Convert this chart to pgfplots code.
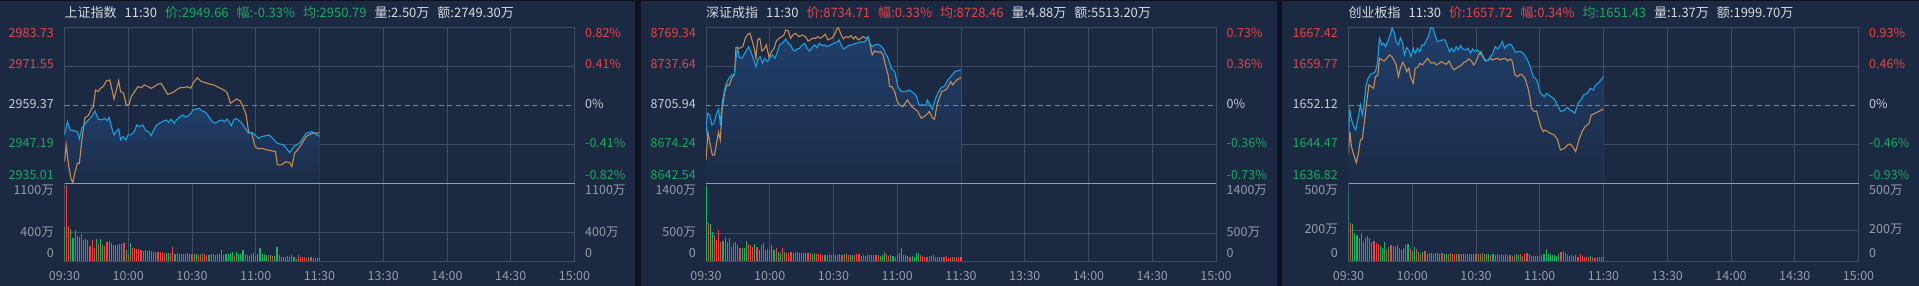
\documentclass[border=0pt]{standalone}
\usepackage{fontspec}
\setmainfont{Noto Sans CJK SC}
\usepackage{pgfplots}
\usepackage{pgfplotstable}
\pgfplotsset{compat=1.18}

\definecolor{outerbg}{RGB}{13,18,30}
\definecolor{panelbg}{RGB}{28,41,66}
\definecolor{gridc}{RGB}{64,77,103}
\definecolor{sepc}{RGB}{150,156,170}
\definecolor{zeroc}{RGB}{125,132,145}
\definecolor{priceblue}{RGB}{28,160,222}
\definecolor{avgorange}{RGB}{196,142,80}
\definecolor{upred}{RGB}{232,68,68}
\definecolor{dngreen}{RGB}{30,168,98}
\definecolor{barred}{RGB}{240,66,66}
\definecolor{bargreen}{RGB}{28,178,100}
\definecolor{lblgray}{RGB}{150,156,168}
\definecolor{lblwhite}{RGB}{200,204,212}
\definecolor{hdrwhite}{RGB}{214,218,226}
\definecolor{filltop}{RGB}{32,62,106}
\definecolor{fillbot}{RGB}{28,43,70}

% ---------- Panel 1: 上证指数 ----------
\pgfplotstableread[row sep=\\]{m p\\
0 2950.11\\ 1.4 2954.27\\ 2.6 2951.67\\ 5.0 2951.35\\ 6.1 2951.15\\ 7.0 2948.86\\ 8.1 2952.19\\ 9.6 2953.44\\ 11.2 2954.79\\ 12.8 2955.83\\
14.3 2957.60\\ 15.9 2955.00\\ 17.4 2954.79\\ 19.0 2955.31\\ 20.1 2954.58\\ 21.0 2955.62\\ 22.1 2952.71\\ 23.3 2950.11\\ 24.4 2951.15\\ 25.5 2951.98\\
26.4 2948.54\\ 27.5 2949.59\\ 28.8 2948.54\\ 29.9 2950.11\\ 31.4 2950.11\\ 33.0 2951.35\\ 34.0 2953.23\\ 35.3 2952.71\\ 36.8 2953.23\\ 38.4 2951.35\\
39.6 2951.15\\ 40.7 2949.90\\ 41.8 2951.35\\ 43.1 2953.02\\ 44.6 2953.75\\ 46.2 2954.27\\ 47.7 2954.79\\ 49.0 2954.06\\ 50.1 2955.00\\ 51.6 2953.75\\
52.7 2954.79\\ 53.9 2955.52\\ 55.5 2956.35\\ 57.1 2955.73\\ 58.3 2956.14\\ 59.5 2956.87\\ 60.5 2957.91\\ 61.7 2958.12\\ 63.3 2958.43\\ 64.8 2957.60\\
66.4 2957.18\\ 67.9 2955.83\\ 69.5 2954.27\\ 71.0 2953.75\\ 72.6 2954.48\\ 74.1 2954.79\\ 75.4 2954.27\\ 76.5 2955.10\\ 77.6 2954.06\\ 78.5 2953.02\\
79.6 2954.79\\ 80.7 2955.31\\ 82.2 2954.58\\ 83.5 2953.75\\ 85.0 2952.19\\ 86.6 2950.63\\ 88.1 2950.94\\ 89.7 2950.11\\ 91.3 2949.06\\ 92.8 2949.59\\
96.4 2950.11\\ 100.2 2947.50\\ 103.1 2946.98\\ 106.0 2944.59\\ 107.9 2946.46\\ 110.8 2947.71\\ 113.7 2950.63\\ 116.5 2951.15\\ 120 2949.66\\
}\bA
\pgfplotstableread[row sep=\\]{m p\\
0 2941.78\\ 0.8 2946.98\\ 1.9 2940.74\\ 3.0 2936.57\\ 3.9 2935.22\\ 5.0 2938.65\\ 6.1 2941.26\\ 7.0 2941.26\\ 8.1 2948.02\\ 9.6 2955.52\\
11.2 2956.14\\ 12.8 2958.43\\ 13.5 2958.64\\ 14.6 2964.16\\ 15.9 2963.64\\ 16.9 2964.68\\ 18.2 2965.20\\ 19.7 2966.97\\ 21.3 2967.28\\ 22.2 2964.68\\
23.3 2961.35\\ 24.4 2964.16\\ 25.5 2967.07\\ 26.4 2963.64\\ 27.8 2963.12\\ 29.1 2959.47\\ 30.3 2959.47\\ 31.4 2962.08\\ 33.0 2963.64\\ 34.5 2965.20\\
36.1 2964.89\\ 37.6 2965.72\\ 39.2 2965.20\\ 40.7 2964.68\\ 42.3 2965.20\\ 43.8 2965.93\\ 45.4 2966.24\\ 46.9 2964.68\\ 48.5 2962.81\\ 50.1 2963.12\\
51.6 2963.64\\ 53.2 2964.47\\ 54.7 2964.89\\ 56.3 2964.89\\ 57.9 2965.20\\ 59.4 2964.68\\ 60.5 2966.24\\ 61.7 2967.28\\ 62.5 2968.01\\ 64.0 2966.97\\
65.6 2966.55\\ 67.2 2966.24\\ 68.7 2965.93\\ 70.3 2965.72\\ 71.8 2965.20\\ 73.4 2964.68\\ 75.0 2964.16\\ 76.5 2963.33\\ 78.1 2960.00\\ 79.6 2960.72\\
81.2 2961.35\\ 82.7 2960.72\\ 84.3 2958.43\\ 85.5 2956.35\\ 86.6 2951.15\\ 88.1 2950.63\\ 89.7 2946.46\\ 91.3 2945.73\\ 92.8 2945.94\\ 95.4 2945.42\\
99.3 2944.90\\ 100.2 2940.74\\ 102.1 2940.74\\ 104.1 2941.78\\ 106.0 2941.46\\ 107.0 2940.22\\ 108.3 2944.38\\ 110.8 2946.46\\ 113.7 2949.59\\ 116.5 2950.63\\ 120 2950.79\\
}\oA
\pgfplotstableread[row sep=\\]{m v c\\
0 480 0\\ 1 1070 1\\ 2 500 1\\ 3 456 0\\ 4 325 0\\ 5 437 1\\ 6 349 0\\ 7 340 0\\ 8 377 1\\ 9 293 1\\
10 316 0\\ 11 293 1\\ 12 214 1\\ 13 293 1\\ 14 190 1\\ 15 307 0\\ 16 246 1\\ 17 307 0\\ 18 232 0\\ 19 214 1\\
20 270 1\\ 21 279 0\\ 22 260 0\\ 23 223 1\\ 24 223 0\\ 25 232 1\\ 26 246 1\\ 27 246 1\\ 28 260 1\\ 29 153 0\\
30 84 1\\ 31 260 0\\ 32 186 1\\ 33 177 1\\ 34 167 1\\ 35 167 1\\ 36 153 1\\ 37 140 1\\ 38 149 0\\ 39 144 1\\
40 149 0\\ 41 140 1\\ 42 130 1\\ 43 130 1\\ 44 121 1\\ 45 130 1\\ 46 121 1\\ 47 112 1\\ 48 112 0\\ 49 116 0\\
50 112 1\\ 51 200 1\\ 52 98 0\\ 53 112 1\\ 54 102 0\\ 55 93 1\\ 56 93 1\\ 57 93 0\\ 58 112 1\\ 59 102 0\\
60 102 1\\ 61 98 0\\ 62 93 0\\ 63 84 1\\ 64 102 1\\ 65 93 0\\ 66 102 1\\ 67 84 1\\ 68 84 0\\ 69 93 0\\
70 98 1\\ 71 88 0\\ 72 93 0\\ 73 102 0\\ 74 149 0\\ 75 84 1\\ 76 102 0\\ 77 93 0\\ 78 107 0\\ 79 121 0\\
80 74 1\\ 81 130 0\\ 82 102 0\\ 83 93 0\\ 84 149 0\\ 85 102 1\\ 86 84 1\\ 87 74 0\\ 88 102 0\\ 89 112 0\\
90 74 1\\ 91 102 0\\ 92 186 0\\ 93 93 0\\ 94 93 0\\ 95 79 0\\ 96 84 1\\ 97 84 0\\ 98 70 1\\ 99 70 0\\
100 205 0\\ 101 79 1\\ 102 60 0\\ 103 51 0\\ 104 60 0\\ 105 70 1\\ 106 51 0\\ 107 84 1\\ 108 51 0\\ 109 33 0\\
110 79 1\\ 111 51 1\\ 112 51 1\\ 113 60 1\\ 114 46 1\\ 115 51 0\\ 116 51 1\\ 117 42 1\\ 118 47 1\\ 119 40 1\\ 120 45 1\\
}\vA

% ---------- Panel 2: 深证成指 ----------
\pgfplotstableread[row sep=\\]{m p\\
0 8681.83\\ 0.6 8699.44\\ 1.7 8698.08\\ 2.8 8689.95\\ 3.7 8691.31\\ 4.8 8698.08\\ 5.9 8702.69\\ 6.7 8691.31\\ 7.6 8707.57\\ 8.7 8718.40\\
9.8 8724.63\\ 11.0 8728.43\\ 12.1 8730.60\\ 13.4 8731.14\\ 14.1 8744.14\\ 14.9 8752.27\\ 15.7 8744.68\\ 16.9 8744.14\\ 18.0 8747.39\\ 19.1 8750.92\\
20.1 8753.63\\ 21.1 8749.56\\ 22.2 8744.14\\ 23.5 8737.37\\ 24.6 8744.14\\ 25.5 8745.50\\ 26.6 8740.08\\ 27.7 8744.14\\ 28.9 8741.43\\ 30.0 8744.14\\
31.2 8746.85\\ 32.5 8744.14\\ 33.6 8749.56\\ 34.7 8754.98\\ 35.9 8756.33\\ 37.5 8759.86\\ 38.7 8756.33\\ 39.8 8754.98\\ 40.9 8750.92\\ 41.8 8750.10\\
42.9 8751.73\\ 44.0 8752.27\\ 45.2 8754.98\\ 46.5 8756.33\\ 47.6 8752.27\\ 48.7 8750.10\\ 49.9 8752.81\\ 51.1 8754.98\\ 52.2 8752.81\\ 53.3 8756.33\\
54.6 8754.44\\ 55.8 8754.98\\ 56.9 8753.63\\ 58.0 8754.44\\ 59.2 8755.52\\ 60.5 8756.33\\ 61.6 8757.15\\ 62.6 8759.04\\ 63.6 8754.98\\ 64.7 8751.73\\
65.8 8752.81\\ 67.0 8754.44\\ 68.1 8754.98\\ 69.3 8755.52\\ 70.6 8756.33\\ 72.0 8756.88\\ 73.2 8757.69\\ 74.3 8757.15\\ 75.5 8759.04\\ 76.3 8761.75\\
77.1 8756.33\\ 78.2 8753.63\\ 79.4 8754.98\\ 81.0 8755.52\\ 82.2 8754.44\\ 83.3 8752.27\\ 84.4 8748.21\\ 85.7 8744.14\\ 87.2 8736.01\\ 88.8 8733.30\\
90.3 8721.11\\ 91.9 8717.05\\ 93.5 8717.05\\ 95.8 8718.40\\ 98.7 8714.34\\ 100.3 8706.21\\ 103.6 8706.21\\ 104.1 8710.28\\ 105.5 8706.21\\ 106.5 8702.69\\
108.0 8711.63\\ 110.3 8719.76\\ 112.3 8721.65\\ 113.8 8726.53\\ 115.2 8729.24\\ 117.1 8733.30\\ 120 8734.71\\
}\bB
\pgfplotstableread[row sep=\\]{m p\\
0 8661.51\\ 0.9 8683.99\\ 2.0 8673.70\\ 3.0 8665.57\\ 4.0 8665.57\\ 5.1 8676.41\\ 5.9 8683.99\\ 6.7 8677.76\\ 7.6 8702.15\\ 8.7 8715.69\\
9.8 8722.47\\ 11.0 8722.47\\ 12.1 8727.89\\ 13.4 8731.14\\ 14.1 8752.81\\ 15.7 8752.27\\ 17.3 8753.63\\ 18.5 8760.40\\ 19.6 8763.65\\ 20.7 8764.46\\
21.6 8759.04\\ 22.7 8752.27\\ 23.5 8744.14\\ 24.3 8759.04\\ 25.3 8760.40\\ 26.3 8750.10\\ 27.4 8751.73\\ 28.4 8754.98\\ 29.7 8744.68\\ 30.9 8749.56\\
32.0 8752.27\\ 33.1 8758.23\\ 34.4 8760.40\\ 35.6 8761.75\\ 36.7 8763.11\\ 37.5 8767.17\\ 38.7 8766.36\\ 39.8 8760.40\\ 40.9 8763.11\\ 42.1 8764.46\\
43.7 8761.75\\ 45.2 8763.11\\ 46.8 8761.75\\ 48.0 8758.23\\ 49.1 8759.04\\ 50.2 8760.40\\ 51.5 8760.40\\ 52.7 8761.75\\ 53.8 8760.40\\ 54.9 8761.75\\
56.1 8763.65\\ 57.4 8759.04\\ 58.4 8759.86\\ 59.5 8760.94\\ 60.8 8764.46\\ 61.6 8767.99\\ 62.3 8769.07\\ 63.6 8763.11\\ 64.7 8759.86\\ 65.8 8761.75\\
67.0 8760.94\\ 68.2 8762.57\\ 69.3 8759.86\\ 70.4 8761.75\\ 71.7 8759.04\\ 72.9 8760.40\\ 74.0 8761.75\\ 75.1 8760.40\\ 76.3 8760.94\\ 77.1 8756.33\\
78.2 8746.85\\ 79.4 8750.10\\ 81.0 8749.02\\ 82.2 8749.56\\ 83.3 8746.85\\ 84.4 8738.72\\ 85.7 8730.60\\ 86.4 8721.11\\ 87.5 8721.11\\ 88.8 8717.05\\
90.0 8708.92\\ 91.1 8706.21\\ 92.6 8704.86\\ 94.8 8710.28\\ 96.8 8704.86\\ 99.7 8700.79\\ 101.3 8695.37\\ 103.6 8698.08\\ 105.1 8700.79\\ 106.7 8695.37\\
107.5 8694.56\\ 108.9 8707.57\\ 110.9 8717.05\\ 113.2 8718.95\\ 115.2 8725.18\\ 116.1 8722.47\\ 118.0 8726.53\\ 120 8728.46\\
}\oB
\pgfplotstableread[row sep=\\]{m v c\\
0 1343 0\\ 1 681 1\\ 2 669 0\\ 3 518 0\\ 4 470 1\\ 5 380 1\\ 6 560 1\\ 7 349 1\\ 8 361 0\\ 9 440 1\\
10 349 0\\ 11 410 1\\ 12 259 1\\ 13 319 1\\ 14 337 1\\ 15 289 1\\ 16 229 1\\ 17 241 0\\ 18 229 0\\ 19 367 0\\
20 307 1\\ 21 289 1\\ 22 259 1\\ 23 301 0\\ 24 259 1\\ 25 199 0\\ 26 289 1\\ 27 319 1\\ 28 199 0\\ 29 217 0\\
30 199 1\\ 31 289 0\\ 32 199 0\\ 33 241 1\\ 34 169 0\\ 35 139 0\\ 36 229 1\\ 37 157 0\\ 38 139 1\\ 39 151 1\\
40 157 1\\ 41 139 0\\ 42 157 1\\ 43 169 0\\ 44 145 0\\ 45 139 0\\ 46 139 0\\ 47 145 0\\ 48 139 1\\ 49 145 1\\
50 120 0\\ 51 139 0\\ 52 120 1\\ 53 120 1\\ 54 127 1\\ 55 108 1\\ 56 108 0\\ 57 108 1\\ 58 133 1\\ 59 108 1\\
60 127 1\\ 61 108 0\\ 62 108 1\\ 63 127 0\\ 64 108 1\\ 65 120 0\\ 66 133 1\\ 67 108 1\\ 68 108 0\\ 69 108 0\\
70 108 1\\ 71 120 1\\ 72 133 1\\ 73 96 1\\ 74 108 1\\ 75 96 0\\ 76 108 0\\ 77 108 1\\ 78 108 1\\ 79 108 0\\
80 102 1\\ 81 108 1\\ 82 96 0\\ 83 108 0\\ 84 169 0\\ 85 120 1\\ 86 96 1\\ 87 108 0\\ 88 96 0\\ 89 78 1\\
90 108 0\\ 91 139 0\\ 92 229 0\\ 93 108 1\\ 94 107 0\\ 95 89 0\\ 96 77 1\\ 97 89 0\\ 98 65 0\\ 99 149 0\\
100 137 0\\ 101 107 1\\ 102 89 1\\ 103 77 1\\ 104 65 1\\ 105 83 1\\ 106 89 1\\ 107 101 1\\ 108 65 1\\ 109 77 1\\
110 65 1\\ 111 77 0\\ 112 65 1\\ 113 89 1\\ 114 54 1\\ 115 77 1\\ 116 65 0\\ 117 65 1\\ 118 77 1\\ 119 70 1\\ 120 72 1\\
}\vB

% ---------- Panel 3: 创业板指 ----------
\pgfplotstableread[row sep=\\]{m p\\
0 1646.30\\ 0.6 1651.20\\ 1.4 1649.24\\ 2.5 1647.94\\ 3.4 1647.28\\ 4.5 1649.57\\ 5.6 1652.19\\ 6.5 1650.22\\ 7.2 1651.86\\ 8.1 1655.78\\
9.2 1657.42\\ 10.3 1658.20\\ 11.5 1658.40\\ 12.6 1658.72\\ 13.5 1660.03\\ 14.6 1665.26\\ 15.7 1663.95\\ 16.5 1664.28\\ 17.4 1663.63\\ 18.5 1664.61\\
19.6 1665.92\\ 20.5 1667.35\\ 21.6 1666.24\\ 22.4 1664.61\\ 23.5 1663.95\\ 24.4 1665.39\\ 25.5 1664.28\\ 26.3 1661.99\\ 27.4 1663.43\\ 28.3 1662.97\\
29.4 1661.67\\ 30.5 1663.30\\ 31.4 1662.32\\ 32.5 1663.30\\ 33.6 1662.65\\ 34.5 1663.95\\ 35.6 1663.95\\ 36.7 1664.94\\ 37.6 1665.59\\ 38.7 1667.35\\
39.8 1667.22\\ 40.7 1665.92\\ 41.8 1664.61\\ 42.9 1664.74\\ 44.1 1664.94\\ 45.4 1664.94\\ 46.5 1663.82\\ 47.6 1662.65\\ 48.5 1663.30\\ 49.6 1662.65\\
50.7 1663.63\\ 51.6 1662.97\\ 52.7 1663.82\\ 53.8 1663.17\\ 55.0 1662.97\\ 56.3 1663.30\\ 57.4 1662.32\\ 58.4 1663.17\\ 59.7 1662.65\\ 60.9 1662.97\\
62.0 1662.12\\ 63.1 1661.99\\ 64.4 1661.01\\ 65.6 1660.82\\ 66.7 1661.67\\ 67.8 1662.12\\ 69.0 1663.63\\ 70.3 1663.17\\ 71.4 1663.82\\ 72.4 1664.61\\
73.4 1663.30\\ 74.5 1663.82\\ 75.5 1664.09\\ 76.8 1663.95\\ 77.6 1663.17\\ 78.7 1662.52\\ 79.9 1662.65\\ 81.1 1662.65\\ 82.2 1662.32\\ 83.3 1661.67\\
84.6 1660.69\\ 85.8 1659.38\\ 86.9 1657.74\\ 88.0 1657.42\\ 88.9 1656.76\\ 90.0 1654.80\\ 91.1 1654.15\\ 92.3 1653.82\\ 93.1 1654.47\\ 95.3 1653.82\\
96.9 1653.30\\ 98.8 1651.86\\ 99.8 1650.88\\ 101.7 1651.20\\ 103.0 1651.73\\ 104.2 1651.20\\ 105.6 1650.88\\ 106.5 1650.55\\ 108.0 1652.51\\ 109.4 1653.17\\
110.7 1654.15\\ 112.3 1654.47\\ 113.8 1655.45\\ 115.2 1655.13\\ 116.1 1655.91\\ 118.1 1656.76\\ 120 1657.72\\
}\bC
\pgfplotstableread[row sep=\\]{m p\\
0 1642.51\\ 0.6 1646.95\\ 1.4 1644.01\\ 2.5 1642.38\\ 3.7 1640.87\\ 4.5 1642.38\\ 5.6 1645.32\\ 6.5 1645.52\\ 7.6 1649.24\\ 8.4 1652.19\\
9.6 1656.11\\ 10.7 1655.78\\ 11.8 1655.45\\ 12.7 1657.74\\ 13.8 1658.07\\ 14.6 1661.34\\ 15.7 1661.01\\ 16.9 1660.82\\ 18.0 1661.34\\ 19.3 1661.99\\
20.4 1661.67\\ 21.3 1661.01\\ 22.4 1660.03\\ 23.5 1657.74\\ 24.4 1659.38\\ 25.5 1660.55\\ 26.6 1659.70\\ 27.4 1658.72\\ 28.3 1659.38\\ 29.4 1657.42\\
30.5 1656.44\\ 31.4 1659.38\\ 32.5 1659.51\\ 33.6 1660.36\\ 34.8 1660.03\\ 35.9 1660.69\\ 37.2 1661.34\\ 38.2 1660.69\\ 39.2 1660.36\\ 40.3 1660.55\\
41.3 1660.03\\ 42.6 1660.36\\ 43.8 1660.69\\ 44.9 1660.36\\ 46.0 1660.16\\ 47.3 1660.82\\ 48.5 1659.70\\ 49.6 1659.05\\ 50.7 1659.38\\ 51.9 1659.70\\
53.2 1660.03\\ 54.3 1660.55\\ 55.3 1660.69\\ 56.6 1661.21\\ 57.8 1660.82\\ 58.9 1660.03\\ 60.0 1660.69\\ 61.2 1661.99\\ 62.3 1662.65\\ 63.1 1661.67\\
64.4 1660.82\\ 65.6 1661.01\\ 66.7 1661.34\\ 67.8 1661.01\\ 69.0 1661.21\\ 70.3 1661.34\\ 71.4 1661.01\\ 72.4 1661.21\\ 73.7 1661.34\\ 74.9 1660.82\\
76.0 1661.21\\ 76.8 1661.01\\ 77.6 1659.70\\ 78.3 1658.07\\ 79.6 1657.74\\ 80.7 1658.20\\ 81.8 1658.07\\ 83.0 1657.42\\ 84.3 1655.78\\ 85.3 1653.82\\
86.1 1651.53\\ 87.4 1650.88\\ 88.5 1651.01\\ 89.2 1649.90\\ 90.5 1647.94\\ 91.6 1646.95\\ 92.6 1647.28\\ 94.9 1646.63\\ 96.8 1646.30\\ 98.4 1645.32\\
99.7 1643.36\\ 101.7 1643.69\\ 103.0 1644.34\\ 104.2 1644.54\\ 105.5 1644.01\\ 106.9 1643.03\\ 108.4 1645.32\\ 109.9 1646.95\\ 111.3 1647.94\\ 113.2 1648.59\\
114.2 1650.22\\ 116.1 1650.55\\ 117.6 1650.88\\ 120 1651.43\\
}\oC
\pgfplotstableread[row sep=\\]{m v c\\
0 444 0\\ 1 246 1\\ 2 235 0\\ 3 183 0\\ 4 167 0\\ 5 146 1\\ 6 183 1\\ 7 121 0\\ 8 150 0\\ 9 158 1\\
10 146 1\\ 11 121 1\\ 12 131 1\\ 13 117 1\\ 14 110 1\\ 15 96 0\\ 16 83 0\\ 17 125 0\\ 18 79 1\\ 19 90 0\\
20 100 1\\ 21 96 1\\ 22 90 0\\ 23 104 0\\ 24 83 1\\ 25 69 0\\ 26 83 0\\ 27 104 1\\ 28 110 0\\ 29 79 1\\
30 67 0\\ 31 88 0\\ 32 75 1\\ 33 58 0\\ 34 48 1\\ 35 58 0\\ 36 63 1\\ 37 48 0\\ 38 50 1\\ 39 54 0\\
40 48 1\\ 41 52 1\\ 42 50 0\\ 43 48 0\\ 44 50 1\\ 45 48 0\\ 46 46 0\\ 47 44 1\\ 48 50 0\\ 49 42 1\\
50 46 1\\ 51 42 0\\ 52 46 1\\ 53 42 1\\ 54 44 0\\ 55 46 1\\ 56 42 1\\ 57 44 0\\ 58 42 0\\ 59 44 0\\
60 42 1\\ 61 46 0\\ 62 42 1\\ 63 50 0\\ 64 42 1\\ 65 46 0\\ 66 42 0\\ 67 38 1\\ 68 42 0\\ 69 38 0\\
70 42 1\\ 71 38 1\\ 72 42 1\\ 73 38 0\\ 74 42 0\\ 75 38 1\\ 76 38 1\\ 77 33 0\\ 78 38 1\\ 79 42 0\\
80 38 0\\ 81 42 1\\ 82 33 0\\ 83 42 1\\ 84 54 1\\ 85 42 1\\ 86 33 1\\ 87 33 0\\ 88 29 1\\ 89 29 0\\
90 33 1\\ 91 38 0\\ 92 48 0\\ 93 75 0\\ 94 48 0\\ 95 44 0\\ 96 38 0\\ 97 36 0\\ 98 32 0\\ 99 48 0\\
100 61 1\\ 101 65 1\\ 102 53 1\\ 103 38 1\\ 104 32 0\\ 105 36 1\\ 106 32 0\\ 107 38 0\\ 108 27 1\\ 109 42 1\\
110 32 1\\ 111 27 1\\ 112 25 1\\ 113 23 1\\ 114 29 0\\ 115 25 1\\ 116 21 1\\ 117 25 1\\ 118 27 1\\ 119 23 1\\ 120 24 1\\
}\vC

\pgfplotsset{
  panelaxis/.style={scale only axis, width=510pt, anchor=south west,
    xmin=0, xmax=240, xtick={0,30,...,240}, xticklabels={}, yticklabels={},
    major tick length=0pt, tick style={draw=none},
    grid=major, major grid style={draw=gridc, line width=0.8pt},
    axis line style={draw=gridc, line width=0.8pt}},
  priceaxis/.style={panelaxis, height=156pt},
  volaxis/.style={panelaxis, height=77.7pt, ymin=0},
  fillarea/.style={draw=none, top color=filltop, bottom color=fillbot},
  redbar/.style={ycomb, draw=barred, line width=1.2pt, restrict expr to domain={\thisrow{c}}{0.5:1.5}},
  greenbar/.style={ycomb, draw=bargreen, line width=1.2pt, restrict expr to domain={\thisrow{c}}{-0.5:0.5}},
}
\tikzset{zeroline/.style={draw=zeroc, dash pattern=on 5pt off 3.5pt, line width=0.8pt}}

\newcommand\lblfont{\fontsize{12.5}{14}\selectfont}
\newcommand\hdrfont{\fontsize{13}{15}\selectfont}
\newcommand\Llab[3]{\node[anchor=base east,inner sep=0pt,font=\lblfont,text=#1] at (#2) {#3};}
\newcommand\Rlab[3]{\node[anchor=base west,inner sep=0pt,font=\lblfont,text=#1] at (#2) {#3};}
\newcommand\leftPrice[6]{%
  \Llab{upred}{#1,248.2}{#2}\Llab{upred}{#1,217}{#3}\Llab{lblwhite}{#1,177.5}{#4}%
  \Llab{dngreen}{#1,138.5}{#5}\Llab{dngreen}{#1,106.5}{#6}}
\newcommand\rightPrice[5]{%
  \Rlab{upred}{#1,248.2}{#2}\Rlab{upred}{#1,217}{#3}\Rlab{lblwhite}{#1,177.5}{0\%}%
  \Rlab{dngreen}{#1,138.5}{#4}\Rlab{dngreen}{#1,106.5}{#5}}
\newcommand\volLabels[5]{%
  \Llab{lblgray}{#1,91.5}{#3}\Llab{lblgray}{#1,#5}{#4}\Llab{lblgray}{#1,28.2}{0}%
  \Rlab{lblgray}{#2,91.5}{#3}\Rlab{lblgray}{#2,#5}{#4}\Rlab{lblgray}{#2,28.2}{0}}
\newcommand\timeLabels[1]{%
  \foreach \t [count=\i from 0] in {09:30,10:00,10:30,11:00,11:30,13:30,14:00,14:30,15:00}
    {\node[anchor=base,inner sep=0pt,font=\lblfont,text=lblgray] at ({#1+\i*63.75},5.5) {\t};}}

\begin{document}
\begin{tikzpicture}[x=1pt,y=1pt]
\fill[outerbg] (0,0) rectangle (1919,286);
\useasboundingbox (0,0) rectangle (1919,286);
\fill[panelbg] (0,0) rectangle (635,285);
\fill[panelbg] (641,0) rectangle (1277,285);
\fill[panelbg] (1282,0) rectangle (1919,285);

% ===== Panel 1 =====
\begin{axis}[priceaxis, at={(64.5pt,102.7pt)}, ymin=2935.01, ymax=2983.73, ytick={2947.19,2971.55}]
  \addplot[fillarea] table[x=m,y=p] {\bA} |- (rel axis cs:0,0) -- cycle;
  \draw[zeroline] (axis cs:0,2959.37) -- (axis cs:240,2959.37);
  \addplot[avgorange, line width=1.1pt] table[x=m,y=p] {\oA};
  \addplot[priceblue, line width=1.1pt] table[x=m,y=p] {\bA};
\end{axis}
\begin{axis}[volaxis, at={(64.5pt,25pt)}, ymax=1100, ytick={400}]
  \addplot[redbar] table[x=m,y=v] {\vA};
  \addplot[greenbar] table[x=m,y=v] {\vA};
\end{axis}
\draw[sepc, line width=1.3pt] (64.5,102.7) -- (574.5,102.7);
\leftPrice{54}{2983.73}{2971.55}{2959.37}{2947.19}{2935.01}
\rightPrice{585}{0.82\%}{0.41\%}{-0.41\%}{-0.82\%}
\volLabels{54}{585}{1100万}{400万}{49.2}
\timeLabels{64.5}
\node[anchor=base west,inner sep=0pt,font=\hdrfont] at (64.5,268)
  {\textcolor{hdrwhite}{上证指数\hspace{8pt}11:30}\hspace{8pt}\textcolor{dngreen}{价:2949.66\hspace{8pt}幅:-0.33\%\hspace{8pt}均:2950.79}\hspace{8pt}\textcolor{hdrwhite}{量:2.50万\hspace{8pt}额:2749.30万}};

% ===== Panel 2 =====
\begin{axis}[priceaxis, at={(706pt,102.7pt)}, ymin=8642.54, ymax=8769.34, ytick={8674.24,8737.64}]
  \addplot[fillarea] table[x=m,y=p] {\bB} |- (rel axis cs:0,0) -- cycle;
  \draw[zeroline] (axis cs:0,8705.94) -- (axis cs:240,8705.94);
  \addplot[avgorange, line width=1.1pt] table[x=m,y=p] {\oB};
  \addplot[priceblue, line width=1.1pt] table[x=m,y=p] {\bB};
\end{axis}
\begin{axis}[volaxis, at={(706pt,25pt)}, ymax=1400, ytick={500}]
  \addplot[redbar] table[x=m,y=v] {\vB};
  \addplot[greenbar] table[x=m,y=v] {\vB};
\end{axis}
\draw[sepc, line width=1.3pt] (706,102.7) -- (1216,102.7);
\leftPrice{696}{8769.34}{8737.64}{8705.94}{8674.24}{8642.54}
\rightPrice{1226.5}{0.73\%}{0.36\%}{-0.36\%}{-0.73\%}
\volLabels{696}{1226.5}{1400万}{500万}{49.8}
\timeLabels{706}
\node[anchor=base west,inner sep=0pt,font=\hdrfont] at (706,268)
  {\textcolor{hdrwhite}{深证成指\hspace{8pt}11:30}\hspace{8pt}\textcolor{upred}{价:8734.71\hspace{8pt}幅:0.33\%\hspace{8pt}均:8728.46}\hspace{8pt}\textcolor{hdrwhite}{量:4.88万\hspace{8pt}额:5513.20万}};

% ===== Panel 3 =====
\begin{axis}[priceaxis, at={(1348.5pt,102.7pt)}, ymin=1636.82, ymax=1667.42, ytick={1644.47,1659.77}]
  \addplot[fillarea] table[x=m,y=p] {\bC} |- (rel axis cs:0,0) -- cycle;
  \draw[zeroline] (axis cs:0,1652.12) -- (axis cs:240,1652.12);
  \addplot[avgorange, line width=1.1pt] table[x=m,y=p] {\oC};
  \addplot[priceblue, line width=1.1pt] table[x=m,y=p] {\bC};
\end{axis}
\begin{axis}[volaxis, at={(1348.5pt,25pt)}, ymax=500, ytick={200}]
  \addplot[redbar] table[x=m,y=v] {\vC};
  \addplot[greenbar] table[x=m,y=v] {\vC};
\end{axis}
\draw[sepc, line width=1.3pt] (1348.5,102.7) -- (1858.5,102.7);
\leftPrice{1338}{1667.42}{1659.77}{1652.12}{1644.47}{1636.82}
\rightPrice{1869}{0.93\%}{0.46\%}{-0.46\%}{-0.93\%}
\volLabels{1338}{1869}{500万}{200万}{52.8}
\timeLabels{1348.5}
\node[anchor=base west,inner sep=0pt,font=\hdrfont] at (1348.5,268)
  {\textcolor{hdrwhite}{创业板指\hspace{8pt}11:30}\hspace{8pt}\textcolor{upred}{价:1657.72\hspace{8pt}幅:0.34\%}\hspace{8pt}\textcolor{dngreen}{均:1651.43}\hspace{8pt}\textcolor{hdrwhite}{量:1.37万\hspace{8pt}额:1999.70万}};
\end{tikzpicture}
\end{document}
